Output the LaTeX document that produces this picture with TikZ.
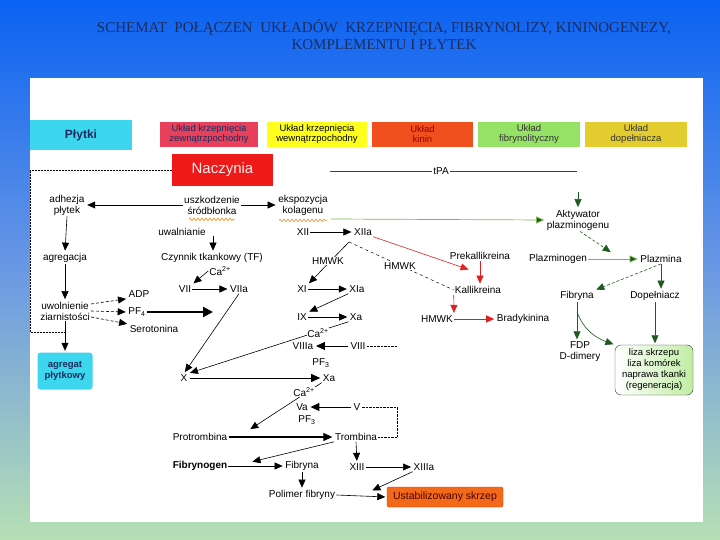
\documentclass[tikz,border=0pt]{standalone}
\usepackage{fontspec}
\setmainfont{Liberation Sans}
\newfontfamily\titlefont{Liberation Serif}
\usetikzlibrary{arrows.meta,decorations.pathmorphing,calc}
\definecolor{bgtop}{HTML}{0A62F2}
\definecolor{bgmid}{HTML}{6A98E4}
\definecolor{bgbot}{HTML}{B6E0B4}
\definecolor{navy}{HTML}{1C2C5E}
\definecolor{cyanbox}{HTML}{3CD6EE}
\definecolor{redbox}{HTML}{E8405A}
\definecolor{yellowbox}{HTML}{FFFF1E}
\definecolor{orangebox}{HTML}{F0501E}
\definecolor{greenbox}{HTML}{96E266}
\definecolor{olivebox}{HTML}{E2CC2E}
\definecolor{naczred}{HTML}{EE1A1A}
\definecolor{kinred}{HTML}{E02020}
\definecolor{fibgreen}{HTML}{1E5A1E}
\definecolor{litegreen}{HTML}{7CB850}
\definecolor{wavy}{HTML}{E89020}
\begin{document}
\begin{tikzpicture}[x=1pt,y=-1pt,
  lbl/.style={font=\fontsize{10}{11}\selectfont, inner sep=1pt, align=center},
  onl/.style={lbl, fill=white, inner sep=0.5pt},
  hdr/.style={font=\fontsize{9.5}{10}\selectfont, inner sep=1pt, align=center, minimum height=25pt},
  arr/.style={-{Triangle[length=8pt,width=7pt]}, line width=0.6pt, shorten >=1.5pt},
  bigarr/.style={-{Triangle[length=9pt,width=8pt]}, line width=0.9pt, shorten >=1.5pt, shorten <=1pt},
  redarr/.style={arr, draw=kinred, -{Triangle[length=8pt,width=7pt,fill=kinred]}},
  grnarr/.style={arr, draw=fibgreen},
  zig/.style={draw=wavy, line width=0.6pt, decorate, decoration={zigzag, segment length=4pt, amplitude=1.3pt}}]
\useasboundingbox (0,0) rectangle (720,540);
\shade[top color=bgtop, bottom color=bgbot, middle color=bgmid] (0,0) rectangle (720,540);
\fill[white] (30,78) rectangle (703,522);

% title
\node[font=\titlefont\fontsize{15}{15}\selectfont, text=navy, inner sep=0] (t1) at (384,28)
  {SCHEMAT\ \ POŁĄCZEN\ \ UKŁADÓW\ \ KRZEPNIĘCIA, FIBRYNOLIZY, KININOGENEZY,};
\node[font=\titlefont\fontsize{15}{15}\selectfont, text=navy, inner sep=0] (t2) at (384,45)
  {KOMPLEMENTU I PŁYTEK};

% header boxes
\node[fill=cyanbox, minimum width=102pt, minimum height=30pt, font=\bfseries\fontsize{12}{13}\selectfont, text=navy] (hplyt) at (81,135) {Płytki};
\node[hdr, fill=redbox, minimum width=98pt, text=navy] (hzew) at (209,134.5) {Układ krzepnięcia\\zewnątrzpochodny};
\node[hdr, fill=yellowbox, minimum width=100pt] (hwew) at (317,134.5) {Układ krzepnięcia\\wewnątrzpochodny};
\node[hdr, fill=orangebox, minimum width=101pt, text=red!60!black] (hkin) at (422.5,134.5) {Układ\\kinin};
\node[hdr, fill=greenbox, minimum width=102pt, text=black!80] (hfib) at (529,134.5) {Układ\\fibrynolityczny};
\node[hdr, fill=olivebox, minimum width=102pt, text=black!80] (hdop) at (636,134.5) {Układ\\dopełniacza};
\node[fill=naczred, minimum width=101pt, minimum height=32pt, font=\fontsize{15}{16}\selectfont, text=red!8] (nacz) at (222.5,170) {Naczynia};

% dotted platelet bracket
\coordinate (db1) at (30,170);
\coordinate (db2) at (30,332);
\coordinate (db3) at (65,332);
\draw[densely dotted, line width=0.5pt] (nacz.west) -- (db1) -- (db2) -- (db3);

% platelets column
\node[lbl] (adh) at (67,205) {adhezja\\płytek};
\node[lbl] (usz) at (212,205) {uszkodzenie\\śródbłonka};
\node[lbl] (eksp) at (303,205) {ekspozycja\\kolagenu};
\node[lbl] (agr) at (65,258) {agregacja};
\node[lbl] (uwol) at (65,311) {uwolnienie\\ziarnistości};
\node[lbl] (adp) at (139,294) {ADP};
\node[lbl] (pf4) at (137,312) {PF\textsubscript{4}};
\node[lbl] (ser) at (154,329) {Serotonina};
\node[lbl, fill=cyanbox, rounded corners=3pt, minimum width=55pt, minimum height=37pt, font=\bfseries\fontsize{9.5}{10.5}\selectfont, text=navy] (agg) at (65,371) {agregat\\płytkowy};

\draw[arr] (usz.west) -- (adh.east);
\draw[arr] (usz.east) -- (eksp.west);
\draw[zig] ($(usz.south west)+(6,4)$) -- ($(usz.south east)+(-6,4)$);
\draw[zig] ($(eksp.south west)+(2,4)$) -- ($(eksp.south east)+(-2,4)$);
\draw[arr] (adh.south) -- (agr.north);
\draw[arr] (agr.south) -- (uwol.north);
\draw[arr] (uwol.south) -- (agg.north);
\draw[arr, densely dashed] (uwol.east) ++(0,-7) -- (adp.south west);
\draw[arr, densely dashed] (uwol.east) -- (pf4.west);
\draw[arr, densely dashed] (uwol.east) ++(0,6) -- (ser.north west);
\coordinate (pfend) at (213,312);
\draw[-{Triangle[length=10pt,width=10pt]}, line width=2.6pt] (pf4.east) -- (pfend);

% extrinsic
\node[lbl] (uwal) at (182,232) {uwalnianie};
\node[lbl] (tf) at (212,258) {Czynnik tkankowy (TF)};
\coordinate (uwtop) at (213,236);
\draw[arr] (uwtop) -- (tf.north -| uwtop);
\node[lbl] (ca1) at (220,271) {Ca\textsuperscript{2+}};
\node[lbl] (vii) at (185,289) {VII};
\node[lbl] (viia) at (239,289) {VIIa};
\draw[arr] (ca1.west) -- (vii.north east);
\draw[arr] (vii.east) -- (viia.west);

% intrinsic
\node[lbl] (xii) at (303,232) {XII};
\node[lbl] (xiia) at (363,232) {XIIa};
\draw[arr] (xii.east) -- (xiia.west);
\node[lbl] (xi) at (302,289) {XI};
\node[lbl] (xia) at (357,289) {XIa};
\node[lbl] (ix) at (302,317) {IX};
\node[lbl] (xa1) at (356,317) {Xa};
\node[lbl] (viiia) at (303,346) {VIIIa};
\node[lbl] (viii) at (358,346) {VIII};
\node[lbl] (pf3a) at (321,363) {PF\textsubscript{3}};
\node[lbl] (x) at (184,378) {X};
\node[lbl] (xa2) at (329,378) {Xa};
\node[lbl] (va) at (302,407) {Va};
\node[lbl] (v) at (357,407) {V};
\node[lbl] (pf3b) at (307,420) {PF\textsubscript{3}};
\node[lbl] (prot) at (200,437) {Protrombina};
\node[lbl] (trom) at (356,437) {Trombina};
\node[lbl, font=\bfseries\fontsize{10}{11}\selectfont] (fgen) at (200,466) {Fibrynogen};
\node[lbl] (fib) at (302,466) {Fibryna};
\node[lbl] (xiii) at (357,467) {XIII};
\node[lbl] (xiiia) at (424,467) {XIIIa};
\node[lbl] (pol) at (302,495) {Polimer fibryny};
\node[lbl, fill=orangebox!85!yellow, draw=red!70!orange, rounded corners=2pt, minimum width=116pt, minimum height=20pt, text=red!30!black, font=\fontsize{10.5}{11}\selectfont] (ust) at (445,497) {Ustabilizowany skrzep};

\coordinate (hx) at (349,242);
\draw[arr] (hx) -- (xi.north east);
\node[onl] (hmwk1) at (328,261) {HMWK};
\draw[arr] (xi.east) -- (xia.west);
\draw[arr] (xia.south west) -- (ix.north east);
\draw[arr] (ix.east) -- (xa1.west);
\draw[arr] (xa1.south west) -- (x.north east);
\node[onl] (ca2) at (318,333) {Ca\textsuperscript{2+}};
\draw[arr] (viia.south) -- (x.north);
\draw[bigarr] (viii.west) -- (viiia.east);
\coordinate (viiid) at (397,346);
\draw[densely dotted] (viii.east) -- (viiid);
\draw[bigarr] (x.east) -- (xa2.west);
\coordinate (protarr) at (249,430);
\draw[arr] (xa2.south west) -- (protarr);
\node[onl] (ca3) at (304,392) {Ca\textsuperscript{2+}};
\draw[bigarr] (v.west) -- (va.east);
\coordinate (vd1) at (397,407);
\coordinate (vd2) at (397,437);
\draw[densely dotted] (v.east) -- (vd1) -- (vd2) -- (trom.east);
\draw[bigarr, line width=1.1pt] (prot.east) -- (trom.west);
\coordinate (fibarr) at (251,462);
\draw[arr] (trom.south west) -- (fibarr);
\draw[arr] (fgen.east) -- (fib.west);
\draw[arr] (fib.south) -- (pol.north);
\draw[arr] (trom.south) -- (xiii.north);
\draw[arr] (xiii.east) -- (xiiia.west);
\coordinate (ustarr) at (371,491);
\draw[arr] (xiiia.south west) -- (ustarr);
\draw[arr] (pol.east) -- (ust.west);

% kinin system
\node[lbl] (prek) at (480,256) {Prekallikreina};
\node[lbl] (kal) at (478,290) {Kallikreina};
\node[lbl] (hmwk3) at (437,319) {HMWK};
\node[lbl] (brad) at (523,319) {Bradykinina};
\coordinate (kalarr) at (470,270);
\draw[redarr] (xiia.south east) -- (kalarr);
\draw[redarr] (prek.south) -- (kal.north -| prek.south);
\draw[redarr] (kal.south west) -- (hmwk3.north east);
\draw[redarr] (hmwk3.east) -- (brad.west);
\draw[dashed, line width=0.5pt] (hx) -- (kal.west);
\node[onl] (hmwk2) at (400,266) {HMWK};

% fibrinolysis
\node[lbl] (tpa) at (441,171) {tPA};
\coordinate (tpal) at (330,171);
\coordinate (tpar) at (577,171);
\draw[fibgreen, line width=0.7pt] (tpal) -- (tpa.west);
\draw[fibgreen, line width=0.7pt] (tpa.east) -- (tpar);
\node[lbl] (akt) at (578,220) {Aktywator\\plazminogenu};
\coordinate (tpad) at (578,192);
\draw[grnarr] (tpad) -- (akt.north);
\coordinate (kolg) at (331,219);
\draw[litegreen, line width=0.7pt, shorten >=1.5pt, -{Triangle[length=8pt,width=7pt,fill=fibgreen]}] (kolg) -- (akt.west);
\node[lbl] (plg) at (558,259) {Plazminogen};
\node[lbl] (plm) at (661,259) {Plazmina};
\coordinate (plmarr) at (612,253);
\draw[grnarr, densely dashed] (akt.south) ++(2,0) -- (plmarr);
\draw[litegreen, line width=0.7pt, shorten >=1.5pt, -{Triangle[length=8pt,width=7pt,fill=fibgreen]}] (plg.east) -- (plm.west);
\node[lbl] (fib2) at (577,296) {Fibryna};
\node[lbl] (dop) at (655,296) {Dopełniacz};
\draw[grnarr, densely dashed] (plm.south) -- (fib2.north east);
\draw[grnarr] (plm.south) -- (dop.north -| plm.south);
\node[lbl] (fdp) at (580,352) {FDP\\D-dimery};
\node[lbl, draw=black!80, rounded corners=6pt, left color=white, right color=greenbox!60, minimum width=78pt, minimum height=50pt, font=\fontsize{9.5}{11}\selectfont] (liza) at (654,370) {liza skrzepu\\liza komórek\\naprawa tkanki\\(regeneracja)};
\draw[grnarr] (fib2.south) -- (fdp.north -| fib2.south);
\coordinate (fibc) at ($(fib2.south)+(0,10)$);
\draw[grnarr] (fibc) to[out=-70, in=160] (liza.north west);
\draw[grnarr] (dop.south) -- (liza.north -| dop.south);
\end{tikzpicture}
\end{document}
